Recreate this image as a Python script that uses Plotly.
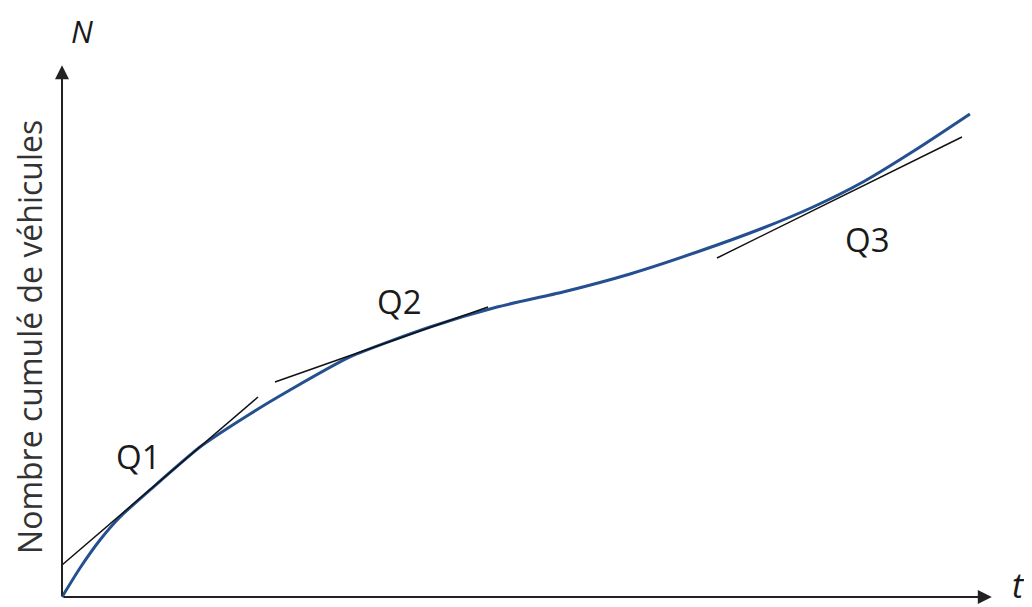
import plotly.graph_objects as go

# Cumulative vehicle curve (arbitrary units)
t_vals = [0, 1.94, 4.09, 6.25, 9.48, 14.87, 20.26, 24.57, 31.03, 39.66, 46.88,
          53.99, 61.21, 68.43, 75.54, 80.93, 86.31, 92.46, 97.84]
n_vals = [0, 4.94, 9.71, 13.63, 18.23, 25.55, 31.18, 35.26, 40.89, 46.00, 49.40,
          51.96, 55.03, 58.77, 62.86, 66.44, 70.70, 76.66, 82.28]

# Tangent segments (start/end)
tangent_names = ["Q1", "Q2", "Q3"]
tan_t = [[0, 21.12], [22.95, 45.91], [70.58, 96.98]]
tan_n = [[5.45, 34.07], [36.63, 49.40], [57.75, 78.36]]
label_t = [8.19, 36.42, 86.75]
label_n = [23.85, 50.26, 60.82]

fig = go.Figure()
fig.add_trace(go.Scatter(x=t_vals, y=n_vals, mode="lines",
                         line=dict(color="#24508f", width=3, shape="spline", smoothing=0.6),
                         hoverinfo="skip", showlegend=False))
for tx, ny in zip(tan_t, tan_n):
    fig.add_trace(go.Scatter(x=tx, y=ny, mode="lines",
                             line=dict(color="#111111", width=1.5),
                             hoverinfo="skip", showlegend=False))

FONT = "Open Sans, Liberation Sans, sans-serif"
ann = []
# axes with arrows
ann.append(dict(x=100.2, y=0, ax=0, ay=0, axref="x", ayref="y", xref="x", yref="y",
                text="", showarrow=True, arrowhead=2, arrowsize=1.4, arrowwidth=2,
                arrowcolor="#222222"))
ann.append(dict(x=0, y=90.6, ax=0, ay=0, axref="x", ayref="y", xref="x", yref="y",
                text="", showarrow=True, arrowhead=2, arrowsize=1.4, arrowwidth=2,
                arrowcolor="#222222"))
for name, lx, ly in zip(tangent_names, label_t, label_n):
    ann.append(dict(x=lx, y=ly, xref="x", yref="y", text=name, showarrow=False,
                    font=dict(family=FONT, size=33, color="#1a1a1a")))
ann.append(dict(x=2.1, y=96.4, xref="x", yref="y", text="<i>N</i>", showarrow=False,
                borderpad=0, font=dict(family=FONT, size=31, color="#1a1a1a")))
ann.append(dict(x=103.1, y=2.0, xref="x", yref="y", text="<i>t</i>", showarrow=False,
                borderpad=0, font=dict(family=FONT, size=34, color="#1a1a1a")))
ann.append(dict(x=-3.45, y=44.3, xref="x", yref="y", text="Nombre cumulé de véhicules",
                textangle=-90, showarrow=False,
                font=dict(family=FONT, size=32, color="#333333")))

fig.update_layout(
    width=1032, height=607,
    margin=dict(l=0, r=0, t=0, b=0),
    paper_bgcolor="white", plot_bgcolor="white",
    xaxis=dict(range=[-5.82, 105.39], visible=False, fixedrange=True),
    yaxis=dict(range=[-3.07, 100.34], visible=False, fixedrange=True),
    annotations=ann,
    showlegend=False,
)
fig.write_html("out.html")
